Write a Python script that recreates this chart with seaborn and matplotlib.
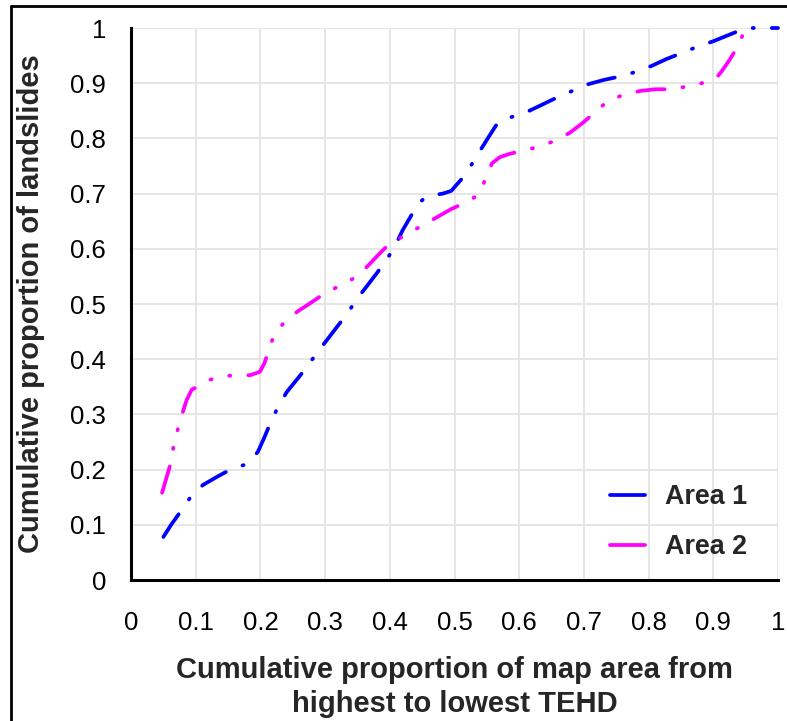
import matplotlib
matplotlib.use("Agg")
import matplotlib.pyplot as plt
import numpy as np
import pandas as pd
import seaborn as sns
from matplotlib.lines import Line2D

# ---------------- data ----------------
series_names = ["Area 1", "Area 2"]

x_area1 = [0.050, 0.062, 0.076, 0.092, 0.111, 0.133, 0.155, 0.179, 0.196, 0.206,
           0.216, 0.227, 0.241, 0.257, 0.272, 0.287, 0.303, 0.318, 0.334, 0.349,
           0.365, 0.380, 0.395, 0.408, 0.420, 0.433, 0.445, 0.455, 0.467, 0.482,
           0.495, 0.510, 0.524, 0.538, 0.553, 0.565, 0.577, 0.589, 0.612, 0.637,
           0.660, 0.682, 0.706, 0.731, 0.755, 0.779, 0.804, 0.828, 0.852, 0.875,
           0.900, 0.923, 0.940, 0.955, 0.971, 1.000]
y_area1 = [0.078, 0.100, 0.123, 0.150, 0.172, 0.187, 0.201, 0.210, 0.232, 0.258,
           0.286, 0.313, 0.341, 0.364, 0.386, 0.411, 0.435, 0.458, 0.482, 0.509,
           0.533, 0.556, 0.580, 0.605, 0.634, 0.660, 0.683, 0.693, 0.697, 0.700,
           0.705, 0.725, 0.748, 0.775, 0.803, 0.825, 0.836, 0.839, 0.848, 0.862,
           0.875, 0.886, 0.898, 0.906, 0.912, 0.920, 0.931, 0.944, 0.955, 0.966,
           0.976, 0.987, 0.995, 1.000, 1.000, 1.000]

x_area2 = [0.048, 0.055, 0.062, 0.066, 0.073, 0.080, 0.086, 0.094, 0.107, 0.120,
           0.131, 0.145, 0.158, 0.172, 0.184, 0.199, 0.206, 0.212, 0.221, 0.237,
           0.258, 0.279, 0.300, 0.323, 0.348, 0.366, 0.383, 0.400, 0.425, 0.448,
           0.471, 0.495, 0.519, 0.539, 0.548, 0.558, 0.570, 0.585, 0.603, 0.627,
           0.654, 0.678, 0.697, 0.716, 0.736, 0.761, 0.787, 0.810, 0.836, 0.863,
           0.889, 0.905, 0.912, 0.925, 0.938, 0.950]
y_area2 = [0.158, 0.186, 0.214, 0.245, 0.276, 0.304, 0.326, 0.345, 0.353, 0.362,
           0.366, 0.369, 0.371, 0.371, 0.371, 0.377, 0.392, 0.413, 0.444, 0.467,
           0.487, 0.503, 0.520, 0.533, 0.549, 0.569, 0.590, 0.610, 0.625, 0.641,
           0.656, 0.672, 0.685, 0.699, 0.728, 0.755, 0.766, 0.772, 0.777, 0.784,
           0.795, 0.810, 0.827, 0.846, 0.867, 0.879, 0.886, 0.889, 0.889, 0.895,
           0.902, 0.910, 0.920, 0.942, 0.967, 1.000]

x_ticks = [0, 0.1, 0.2, 0.3, 0.4, 0.5, 0.6, 0.7, 0.8, 0.9, 1]
x_tick_labels = ["0", "0.1", "0.2", "0.3", "0.4", "0.5", "0.6", "0.7", "0.8", "0.9", "1"]
y_ticks = [0, 0.1, 0.2, 0.3, 0.4, 0.5, 0.6, 0.7, 0.8, 0.9, 1]
y_tick_labels = ["0", "0.1", "0.2", "0.3", "0.4", "0.5", "0.6", "0.7", "0.8", "0.9", "1"]

x_label = "Cumulative proportion of map area from\nhighest to lowest TEHD"
y_label = "Cumulative proportion of landslides"

# ---------------- style ----------------
sns.set_style("white")
plt.rcParams["font.family"] = ["Liberation Sans", "DejaVu Sans"]

colors = {"Area 1": "#0000FF", "Area 2": "#FF00FF"}
dashes = {"Area 1": (7.3, 4.8, 0.3, 4.8),
          "Area 2": (7.3, 4.8, 0.3, 4.8, 0.3, 4.8)}

W, H = 787, 721
fig = plt.figure(figsize=(W / 100, H / 100), dpi=100)
ax = fig.add_axes([131 / W, (H - 580) / H, (778 - 131) / W, (580 - 28) / H])

df = pd.concat([
    pd.DataFrame({"x": x_area1, "y": y_area1, "area": series_names[0]}),
    pd.DataFrame({"x": x_area2, "y": y_area2, "area": series_names[1]}),
], ignore_index=True)

sns.lineplot(data=df, x="x", y="y", hue="area", style="area",
             palette=colors, dashes=dashes, estimator=None, sort=False,
             linewidth=2.7, legend=False, ax=ax,
             clip_on=False, zorder=3)
for ln in ax.lines:
    ln.set_dash_capstyle("round")
    ln.set_solid_capstyle("round")
    ln.set_dash_joinstyle("round")

ax.set_xlim(0, 1)
ax.set_ylim(0, 1)
ax.set_xticks(x_ticks)
ax.set_xticklabels(x_tick_labels)
ax.set_yticks(y_ticks)
ax.set_yticklabels(y_tick_labels)

ax.grid(True, color="#e4e4e4", linewidth=1.3)
ax.set_axisbelow(True)
for s in ["top", "right"]:
    ax.spines[s].set_visible(False)
for s in ["left", "bottom"]:
    ax.spines[s].set_linewidth(2.2)
    ax.spines[s].set_color("black")

ax.tick_params(axis="both", direction="out", length=6.5, width=2.0,
               color="black", labelsize=18.5, labelcolor="black")
ax.tick_params(axis="x", pad=16)
ax.tick_params(axis="y", pad=11.5)

ax.set_xlabel(x_label, fontsize=21, fontweight="bold", linespacing=1.3)
ax.set_ylabel(y_label, fontsize=21, fontweight="bold")
ax.xaxis.set_label_coords(0.5, -0.137)
ax.yaxis.set_label_coords(-0.133, 0.5)

handles = [Line2D([], [], color=colors[n], lw=2.7, solid_capstyle="round") for n in series_names]
ax.legend(handles, series_names, loc="upper left",
          bbox_to_anchor=(610 / W, 1 - 484 / H), bbox_transform=fig.transFigure,
          frameon=False, borderpad=0, borderaxespad=0,
          handlelength=1.3, handletextpad=0.74, labelspacing=0.9,
          prop={"weight": "bold", "size": 19.4})

# outer frame (left and top edges visible)
fig.add_artist(Line2D([11 / W, 11 / W], [0, 1 - 6 / H], transform=fig.transFigure,
                      color="black", lw=2.0))
fig.add_artist(Line2D([11 / W, 1], [1 - 6 / H, 1 - 6 / H], transform=fig.transFigure,
                      color="black", lw=2.0))

fig.savefig("out.png", dpi=100)
